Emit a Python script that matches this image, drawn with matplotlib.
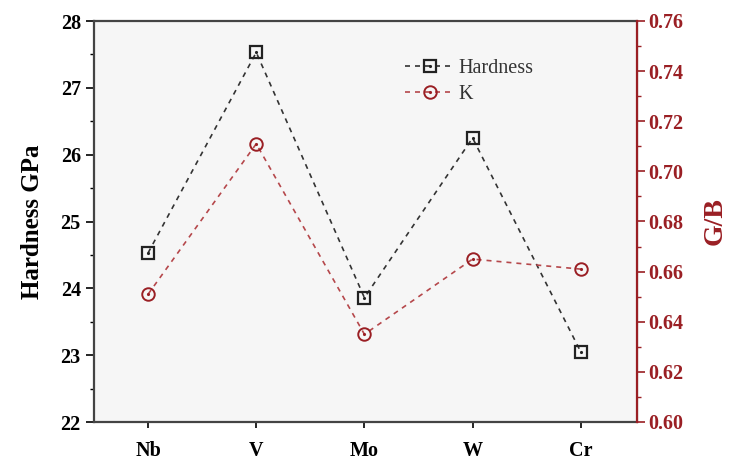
import numpy as np
import matplotlib.pyplot as plt

plt.rcParams['font.family'] = ['Liberation Serif', 'DejaVu Serif']
plt.rcParams['mathtext.fontset'] = 'stix'

# データ
elements = ['Nb', 'V', 'Mo', 'W', 'Cr']
hardness = [24.53, 27.53, 23.86, 26.25, 23.05]
g_over_b = [0.651, 0.711, 0.635, 0.665, 0.661]

left_ticks = [22, 23, 24, 25, 26, 27, 28]
right_ticks = [0.60, 0.62, 0.64, 0.66, 0.68, 0.70, 0.72, 0.74, 0.76]

dark_red = '#9a1f24'
line_red = '#b5474b'

fig = plt.figure(figsize=(7.39, 4.73), dpi=100)
ax = fig.add_axes([94 / 739, 1 - 422 / 473, (637 - 94) / 739, (422 - 21) / 473])
ax.set_facecolor('#f6f6f6')
ax2 = ax.twinx()

x = np.arange(len(elements))

# 硬度
l1, = ax.plot(x, hardness, ls=(0, (3, 3)), lw=1.2, color='#333333',
              marker='s', ms=9, mfc='none', mec='#222222', mew=1.6)
d1, = ax.plot(x, hardness, ls='none', marker='.', ms=2.5, color='#222222')

# G/B
l2, = ax2.plot(x, g_over_b, ls=(0, (3, 3)), lw=1.2, color=line_red,
               marker='o', ms=9, mfc='none', mec=dark_red, mew=1.4)
d2, = ax2.plot(x, g_over_b, ls='none', marker='.', ms=2.5, color=dark_red)

ax.set_xlim(-0.5, 4.52)
ax.set_ylim(22, 28)
ax2.set_ylim(0.60, 0.76)

ax.set_xticks(x)
ax.set_xticklabels(elements, fontsize=14.5, fontweight='bold')
ax.set_yticks(left_ticks)
ax.set_yticklabels([str(t) for t in left_ticks], fontsize=14.5, fontweight='bold')
ax.set_yticks(np.arange(22.5, 28, 1), minor=True)
ax2.set_yticks(right_ticks)
ax2.set_yticklabels([f'{t:.2f}' for t in right_ticks], fontsize=14.5,
                    fontweight='bold', color=dark_red)
ax2.set_yticks(np.arange(0.61, 0.76, 0.02), minor=True)

ax.tick_params(axis='x', direction='out', length=4, width=1.2, pad=10, top=False)
ax.tick_params(axis='y', which='major', direction='out', length=6, width=1.2)
ax.tick_params(axis='y', which='minor', direction='out', length=3, width=1.0)
ax2.tick_params(axis='y', which='major', direction='out', length=6, width=1.2,
                color=dark_red, pad=2)
ax2.tick_params(axis='y', which='minor', direction='out', length=3, width=1.0,
                color=dark_red)

for s in ['left', 'top', 'bottom']:
    ax.spines[s].set_linewidth(1.6)
    ax.spines[s].set_color('#444444')
ax2.spines['right'].set_color(dark_red)
ax2.spines['right'].set_linewidth(1.6)
for s in ['left', 'top', 'bottom']:
    ax2.spines[s].set_visible(False)

ax.set_ylabel('Hardness GPa', fontsize=18, fontweight='bold', labelpad=12)
ax2.set_ylabel('G/B', fontsize=20, fontweight='bold', color=dark_red, labelpad=14)

leg = ax2.legend([(l1, d1), (l2, d2)], ['Hardness', 'K'], loc='upper left',
                 bbox_to_anchor=(0.54, 0.95), frameon=False, fontsize=14.5,
                 handlelength=2.4, handletextpad=0.25, labelspacing=0.35)
for t in leg.get_texts():
    t.set_color('#333333')

plt.savefig('out.png', dpi=100)
